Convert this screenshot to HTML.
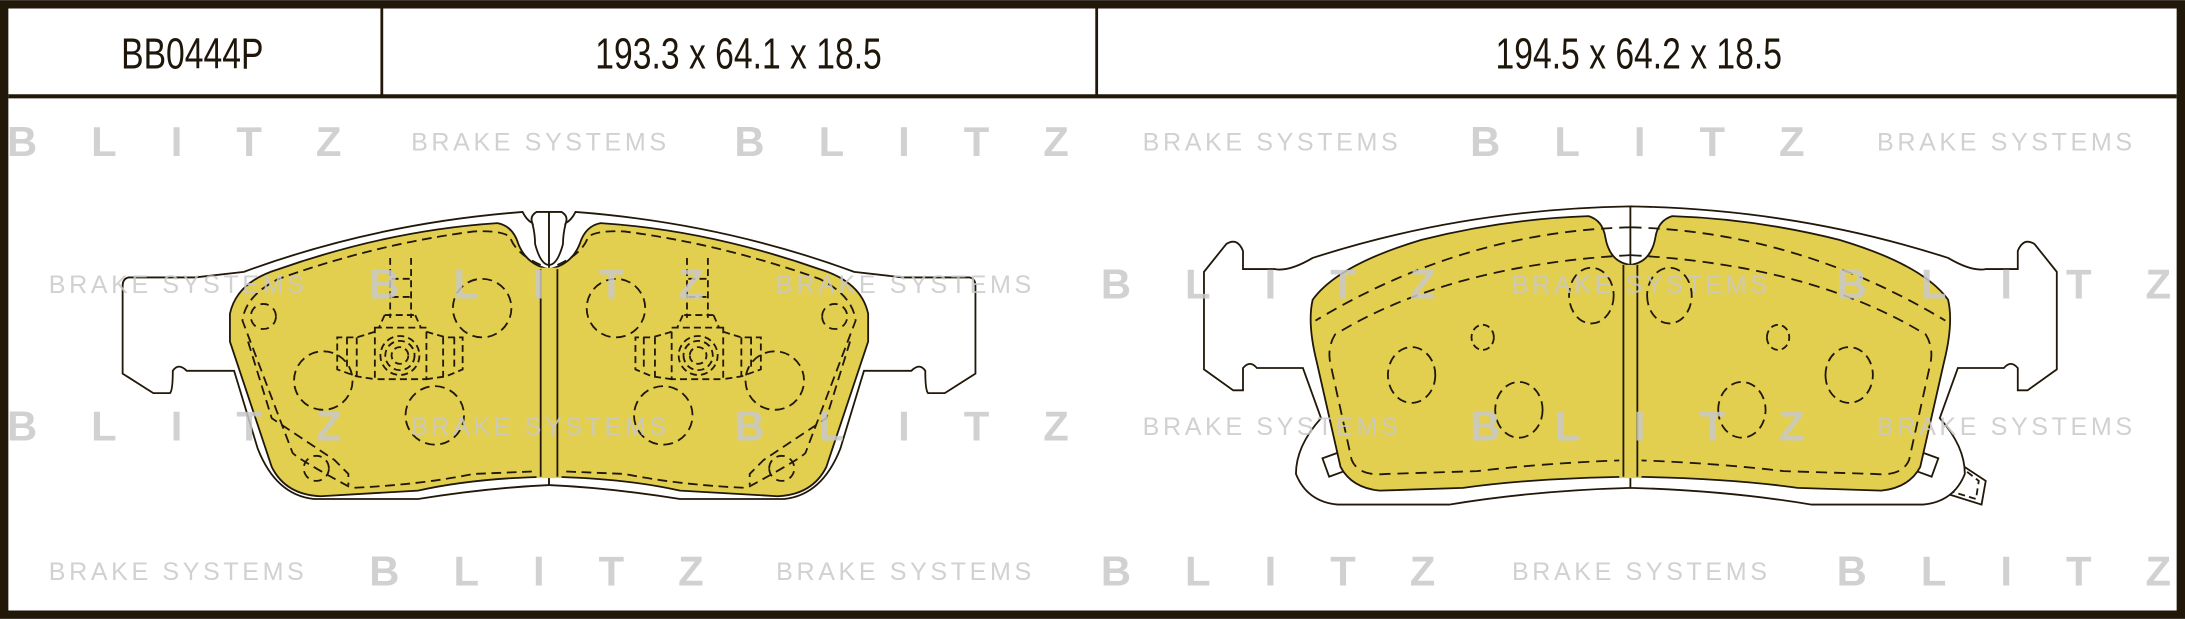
<!DOCTYPE html>
<html><head><meta charset="utf-8"><style>
html,body{margin:0;padding:0;background:#fff;}
svg{display:block;}
.wm1{font-family:"Liberation Sans",sans-serif;font-weight:bold;font-size:30px;fill:#c9c9c9;}
.wm2{font-family:"Liberation Sans",sans-serif;font-size:18px;fill:#c9c9c9;}
.hd{font-family:"Liberation Sans",sans-serif;font-size:31px;fill:#1e160a;}
</style></head><body>
<svg width="2185" height="619" viewBox="0 0 1568 444" xmlns="http://www.w3.org/2000/svg">
<rect x="0" y="0" width="1568" height="444" fill="#21180a"/>
<rect x="6" y="6" width="1556" height="432" fill="#fff"/>
<line x1="6" y1="69" x2="1562" y2="69" stroke="#21180a" stroke-width="3"/>
<line x1="274" y1="6" x2="274" y2="69" stroke="#21180a" stroke-width="2"/>
<line x1="787" y1="6" x2="787" y2="69" stroke="#21180a" stroke-width="2"/>
<text class="hd" x="138" y="49" text-anchor="middle" transform="translate(138,0) scale(0.78,1) translate(-138,0)">BB0444P</text>
<text class="hd" x="530" y="49" text-anchor="middle" transform="translate(530,0) scale(0.78,1) translate(-530,0)">193.3 x 64.1 x 18.5</text>
<text class="hd" x="1176" y="49" text-anchor="middle" transform="translate(1176,0) scale(0.78,1) translate(-1176,0)">194.5 x 64.2 x 18.5</text>

<g fill="none" stroke="#21180a" stroke-width="1.3">
<!-- PAD 1 -->
<g id="p1">
<path fill="#fff" d="M394,152 L385,152 Q380,155 382,160 Q378,158 375,152 Q270,160 175,195 L140,199 L92,199 Q88,200 88,205 L88,268 L110,282 L122,282 Q124,280 124,266 Q128,260 134,266 L168,266 L185,322 Q198,355 225,358 L300,358 Q350,350 394,348 Z"/>
<path fill="#e2cf50" d="M394,193 Q378,190 372,175 Q368,162 357,160 Q280,165 200,193 Q170,202 165,225 L165,245 L195,335 Q205,355 230,356 L300,352 Q340,343 394,342 Z"/>
<path stroke-dasharray="7,4" d="M388,190 Q370,182 366,170 Q360,165 340,166 Q270,175 200,200 Q176,212 174,230 L210,325 Q215,330 252,350 Q300,348 340,340 L388,338"/>
<path stroke-dasharray="7,4" d="M178,245 L195,300 L240,330 L250,340 L250,348"/>
<circle cx="189" cy="227" r="9" stroke-dasharray="6,4"/>
<circle cx="232" cy="273" r="21" stroke-dasharray="7,4"/>
<circle cx="312" cy="298" r="21" stroke-dasharray="7,4"/>
<circle cx="346" cy="221" r="21" stroke-dasharray="7,4"/>
<circle cx="227" cy="336" r="9" stroke-dasharray="6,4"/>
<g stroke-dasharray="5,3">
<rect x="269" y="235" width="37" height="37"/>
<path d="M269,238 L256,242 L242,242 L242,265 L256,270 L269,272"/>
<path d="M306,238 L320,242 L332,242 L332,265 L320,270 L306,272"/>
<path d="M249,242 L249,265 M256,242 L256,270 M318,242 L318,270 M326,242 L326,265"/>
<path d="M280,185 L280,228 M295,185 L295,228 M281,200 L295,200 M281,213 L295,213 M276,226 L298,226 M276,226 L272,235 M298,226 L302,235"/>
<circle cx="287" cy="255" r="14"/>
<circle cx="287" cy="255" r="10.5"/>
<circle cx="287" cy="255" r="6"/>
</g>
<path d="M382,160 Q384,168 384,175 Q388,190 394,190"/>
</g>
<use href="#p1" transform="translate(788,0) scale(-1,1)"/>
<rect x="385" y="192" width="18" height="151" fill="#e2cf50" stroke="none"/>
<line x1="388" y1="193" x2="388" y2="342"/>
<line x1="400" y1="193" x2="400" y2="342"/>

<!-- PAD 2 -->
<path fill="#fff" d="M1375,312 L1425,345 L1422,362 L1390,352 Z"/>
<rect x="1385" y="322" width="14" height="14" transform="rotate(-20 1392 329)"/>
<path d="M1380,314 L1420,345 L1418,358 L1392,350" stroke-dasharray="5,3"/>
<g id="p2">
<path fill="#fff" d="M1170,148 Q1050,150 942,185 Q925,195 915,193 L892,193 L892,180 Q888,170 880,175 L864,195 L864,265 L885,280 L892,280 L892,264 Q897,258 902,264 L935,264 L948,300 Q930,320 930,340 Q938,360 960,362 L1040,362 Q1100,352 1170,350 Z"/>
<rect x="951" y="326" width="14" height="14" transform="rotate(-20 958 333)"/>
<path fill="#e2cf50" d="M1170,190 Q1155,188 1152,170 Q1150,158 1140,155 Q1080,157 1020,172 Q960,190 942,215 Q938,232 945,260 L962,335 Q970,350 990,352 L1050,350 Q1100,343 1170,342 Z"/>
<path stroke-dasharray="8,5" d="M1170,163 Q1050,166 944,230"/>
<path stroke-dasharray="8,5" d="M1170,183 Q1040,190 958,240 Q952,250 955,262 L970,330 Q975,342 995,340 L1060,338 Q1110,332 1170,330"/>
<ellipse cx="1013" cy="269" rx="17" ry="20" stroke-dasharray="7,4"/>
<ellipse cx="1090" cy="294" rx="17" ry="20" stroke-dasharray="7,4"/>
<ellipse cx="1064" cy="242" rx="8" ry="9" stroke-dasharray="5,3"/>
<ellipse cx="1142" cy="212" rx="16" ry="20" stroke-dasharray="7,4"/>
</g>
<use href="#p2" transform="translate(2340,0) scale(-1,1)"/>
<rect x="1162" y="190" width="16" height="153" fill="#e2cf50" stroke="none"/>
<line x1="1165" y1="190" x2="1165" y2="342"/>
<line x1="1175" y1="190" x2="1175" y2="342"/>
</g>

<!-- watermarks -->
<g opacity="0.85">
<g class="wm1">
<text x="5" y="112" textLength="240" lengthAdjust="spacing">BLITZ</text>
<text x="527" y="112" textLength="240" lengthAdjust="spacing">BLITZ</text>
<text x="1055" y="112" textLength="240" lengthAdjust="spacing">BLITZ</text>
<text x="265" y="214" textLength="240" lengthAdjust="spacing">BLITZ</text>
<text x="790" y="214" textLength="240" lengthAdjust="spacing">BLITZ</text>
<text x="1318" y="214" textLength="240" lengthAdjust="spacing">BLITZ</text>
<text x="5" y="316" textLength="240" lengthAdjust="spacing">BLITZ</text>
<text x="527" y="316" textLength="240" lengthAdjust="spacing">BLITZ</text>
<text x="1055" y="316" textLength="240" lengthAdjust="spacing">BLITZ</text>
<text x="265" y="420" textLength="240" lengthAdjust="spacing">BLITZ</text>
<text x="790" y="420" textLength="240" lengthAdjust="spacing">BLITZ</text>
<text x="1318" y="420" textLength="240" lengthAdjust="spacing">BLITZ</text>
</g>
<g class="wm2">
<text x="295" y="108" textLength="183" lengthAdjust="spacing">BRAKE SYSTEMS</text>
<text x="820" y="108" textLength="183" lengthAdjust="spacing">BRAKE SYSTEMS</text>
<text x="1347" y="108" textLength="183" lengthAdjust="spacing">BRAKE SYSTEMS</text>
<text x="35" y="210" textLength="183" lengthAdjust="spacing">BRAKE SYSTEMS</text>
<text x="557" y="210" textLength="183" lengthAdjust="spacing">BRAKE SYSTEMS</text>
<text x="1085" y="210" textLength="183" lengthAdjust="spacing">BRAKE SYSTEMS</text>
<text x="295" y="312" textLength="183" lengthAdjust="spacing">BRAKE SYSTEMS</text>
<text x="820" y="312" textLength="183" lengthAdjust="spacing">BRAKE SYSTEMS</text>
<text x="1347" y="312" textLength="183" lengthAdjust="spacing">BRAKE SYSTEMS</text>
<text x="35" y="416" textLength="183" lengthAdjust="spacing">BRAKE SYSTEMS</text>
<text x="557" y="416" textLength="183" lengthAdjust="spacing">BRAKE SYSTEMS</text>
<text x="1085" y="416" textLength="183" lengthAdjust="spacing">BRAKE SYSTEMS</text>
</g>
</g>
</svg>
</body></html>
